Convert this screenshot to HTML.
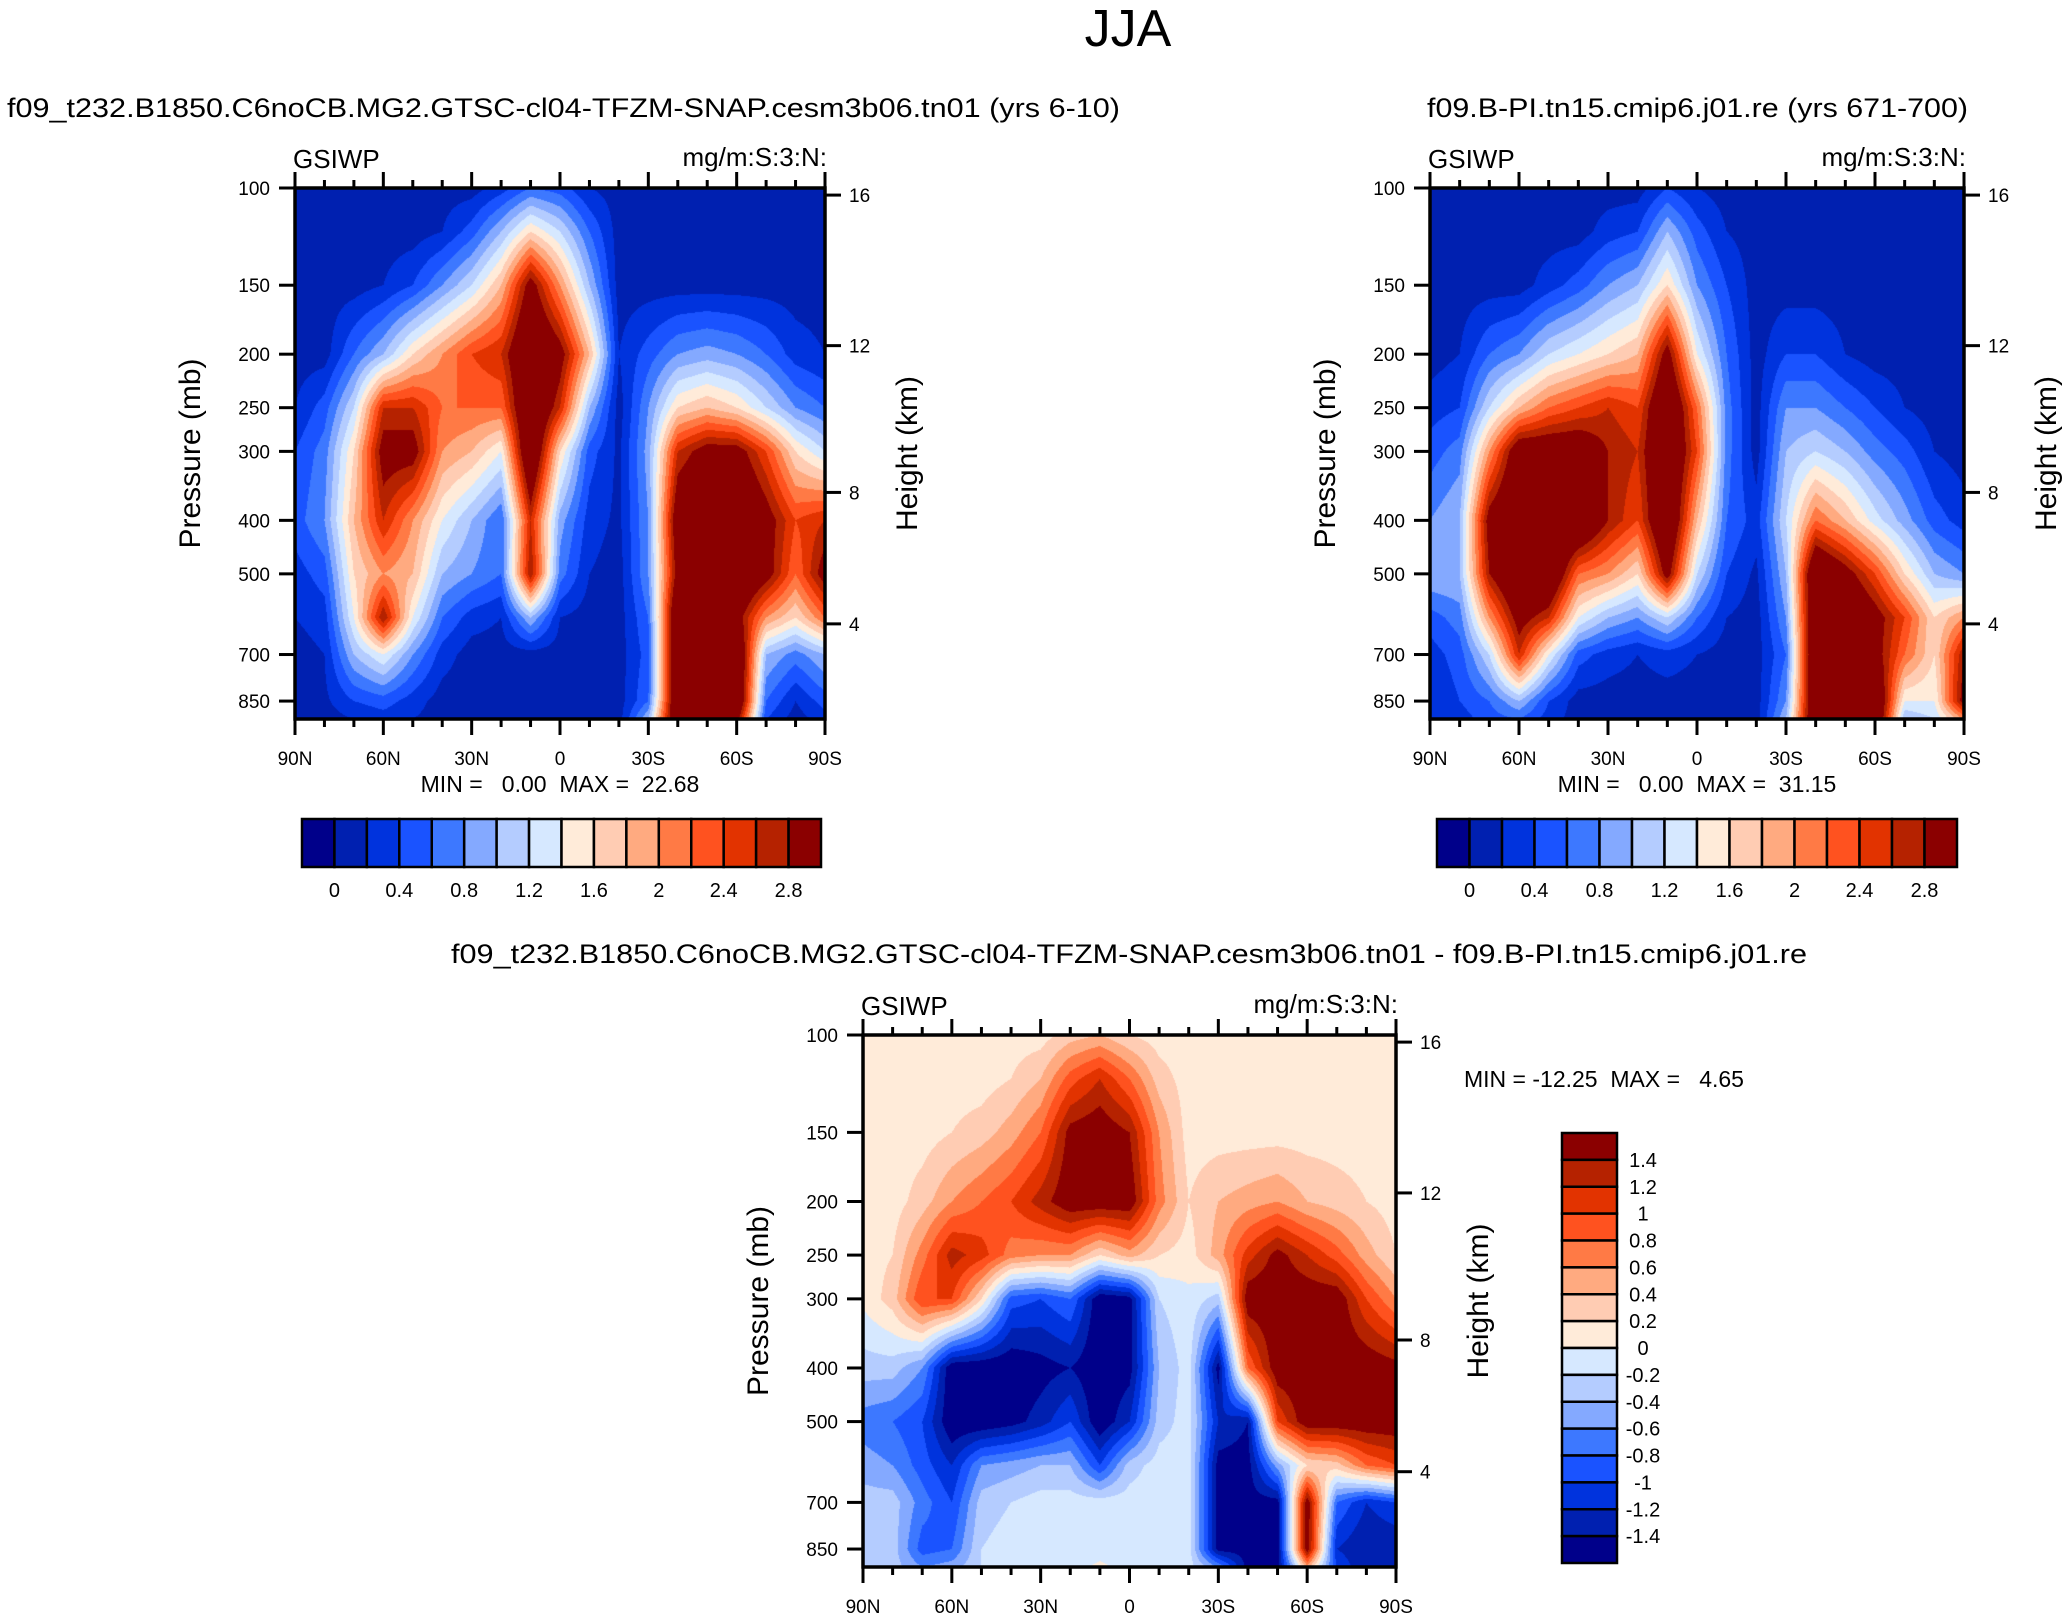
<!DOCTYPE html>
<html><head><meta charset="utf-8"><style>
html,body{margin:0;padding:0;background:#fff;}
body{width:2062px;height:1617px;position:relative;overflow:hidden;font-family:"Liberation Sans",Arial,sans-serif;}
canvas{position:absolute;}
svg{position:absolute;left:0;top:0;}
text{font-family:"Liberation Sans",Arial,sans-serif;fill:#000;white-space:pre;}
</style></head><body>
<canvas id="c1"></canvas>
<canvas id="c2"></canvas>
<canvas id="c3"></canvas>
<svg id="svg" width="2062" height="1617"></svg>
<script>
// ---- data ----
const levels = [100,120,150,200,250,300,400,500,600,700,850,916];
const lats = [90,80,70,60,50,40,30,20,10,0,-10,-20,-30,-40,-50,-60,-70,-80,-90];
const latTickLabels = ["90N","60N","30N","0","30S","60S","90S"];
const pressTicks = [100,150,200,250,300,400,500,700,850];
const heightTicks = [16,12,8,4];
const heightTickP = [103,193,356,616];
const absBarLabels = ["0","0.4","0.8","1.2","1.6","2","2.4","2.8"];
const diffBarLabels = ["1.4","1.2","1","0.8","0.6","0.4","0.2","0","-0.2","-0.4","-0.6","-0.8","-1","-1.2","-1.4"];
const colors = ["#00008a","#0020b0","#0033dd","#1a53ff","#3d78ff","#84a9ff","#b4ccff","#d6e8ff","#ffebd9","#ffccb3","#ffaa80","#ff7a45","#ff521f","#e23300","#b52200","#8b0000"];

const p1Rows = [
[.1,.1,.1,.1,.1,.1,.1,.3,.6,.5,.2,.1,.1,.1,.1,.1,.1,.1,.1],
[.1,.1,.1,.1,.1,.2,.5,1.0,1.6,1.2,.6,.1,.1,.1,.1,.1,.1,.1,.1],
[.1,.1,.1,.2,.4,.8,1.2,1.8,3.0,2.0,1.0,.1,.1,.1,.1,.1,.1,.1,.1],
[.1,.1,.6,1.0,1.6,2.0,2.4,2.6,3.5,3.0,1.8,.2,.5,.8,.9,.8,.6,.3,.2],
[.2,.5,1.2,2.6,2.6,2.2,2.2,2.2,3.5,2.6,1.0,.1,.8,1.6,1.8,1.6,1.2,.8,.6],
[.4,.7,1.6,3.0,3.0,2.0,1.8,1.4,3.5,1.6,.5,.15,.9,2.6,3.0,3.0,2.4,1.6,1.2],
[.5,.8,1.8,2.6,2.0,1.4,1.0,.6,2.6,.9,.3,.15,.8,3.2,3.5,3.5,3.0,2.4,2.6],
[.3,.5,1.6,2.0,1.8,1.0,.8,.6,2.8,.7,.2,.1,.8,3.0,3.5,3.5,3.0,2.2,3.0],
[.2,.3,1.4,2.8,1.4,.6,.3,.2,1.0,.2,.1,.1,.6,3.5,3.5,3.0,2.0,1.6,2.2],
[.1,.2,1.0,1.4,.8,.3,.1,.1,.1,.1,.1,.1,.5,3.5,3.5,3.5,1.0,.7,1.0],
[.1,.15,.4,.5,.3,.1,.1,.1,.1,.1,.1,.1,.6,3.5,3.5,3.5,.6,.2,.5],
[.1,.1,.2,.3,.2,.1,.1,.1,.1,.1,.1,.1,1.0,3.5,3.5,3.0,.4,.1,.3]];

const p2Rows = [
[.1,.1,.1,.1,.1,.1,.1,.1,.4,.2,.1,.1,.1,.1,.1,.1,.1,.1,.1],
[.1,.1,.1,.1,.1,.1,.3,.4,1.0,.5,.2,.1,.1,.1,.1,.1,.1,.1,.1],
[.1,.1,.1,.1,.3,.5,.8,1.0,1.6,.8,.4,.1,.1,.1,.1,.1,.1,.1,.1],
[.1,.2,.6,.8,1.2,1.4,1.6,1.8,3.0,1.4,.6,.1,.4,.4,.2,.1,.1,.1,.1],
[.3,.4,1.2,1.8,2.2,2.4,2.6,2.4,3.5,2.2,.7,.1,.8,.8,.6,.4,.2,.1,.1],
[.5,.7,2.0,3.2,3.2,3.2,2.8,2.6,3.5,2.4,.7,.1,1.0,1.2,1.0,.7,.5,.2,.1],
[.8,1.0,3.0,3.5,3.5,3.5,2.8,2.4,3.5,1.8,.6,.3,1.2,2.2,1.8,1.3,.9,.5,.3],
[1.0,1.0,2.8,3.5,3.5,2.2,2.0,1.6,3.0,1.2,.4,.15,1.0,3.5,3.0,2.4,1.6,1.0,.8],
[.5,.7,2.0,3.0,2.6,1.4,1.0,.8,1.2,.6,.2,.1,.8,3.5,3.5,3.0,2.4,1.6,2.0],
[.3,.5,1.2,2.6,1.4,.5,.3,.2,.3,.2,.1,.1,.6,3.5,3.5,3.0,2.2,1.6,2.8],
[.2,.4,.6,1.0,.4,.1,.1,.1,.1,.1,.1,.1,.8,3.5,3.5,3.5,1.4,1.4,3.0],
[.2,.3,.5,.6,.3,.1,.1,.1,.1,.1,.1,.1,1.0,3.5,3.5,3.5,1.0,1.2,2.0]];

const p3Rows = [
[.1,.1,.1,.1,.1,.1,.1,.3,.4,.2,.1,.1,.1,.1,.1,.1,.1,.1,.1],
[.1,.1,.1,.1,.1,.2,.4,.9,1.2,.8,.3,.1,.1,.1,.1,.1,.1,.1,.1],
[.1,.1,.1,.2,.3,.5,.8,1.5,1.6,1.4,.6,.1,.1,.1,.1,.1,.1,.1,.1],
[.1,.1,.3,.6,.8,1.0,1.3,1.6,1.6,1.6,.7,.2,.4,.5,.6,.4,.3,.2,.1],
[.1,.2,.7,1.3,1.1,.7,.6,.6,.2,.5,.2,.1,.5,1.1,1.5,1.2,.9,.5,.2],
[.05,.3,1.0,1.0,.2,-.9,-1.0,-.8,-1.6,-1.5,-.2,-.05,-.3,1.6,1.6,1.6,1.6,1.0,.6],
[-.3,-.3,-.6,-1.6,-1.6,-1.6,-1.5,-1.4,-1.6,-1.5,-.4,-.1,-1.5,.8,1.6,1.6,1.6,1.6,1.5],
[-.7,-.8,-1.0,-1.6,-1.6,-1.5,-1.3,-1.0,-1.6,-1.2,-.3,-.1,-1.2,-1.4,1.0,1.6,1.6,1.6,1.6],
[-.5,-.6,-.9,-1.2,-.6,-.5,-.4,-.4,-1.0,-.3,-.1,-.1,-1.5,-1.5,-.5,.2,.3,.8,1.0],
[-.3,-.3,-.7,-1.0,-.3,-.2,-.1,-.1,-.1,-.1,-.1,-.1,-1.5,-1.5,-1.5,1.6,-.8,-1.2,-1.0],
[-.2,-.3,-.9,-.8,-.2,-.1,-.1,-.1,-.1,-.1,-.1,-.1,-1.5,-1.5,-1.5,1.6,-1.2,-1.4,-1.4],
[-.2,-.3,-.6,-.5,-.2,-.1,-.1,-.1,.05,-.1,-.1,-.1,-.6,-1.5,-1.5,.5,-1.0,-1.4,-1.4]];

// ---- rendering ----
const NS = "http://www.w3.org/2000/svg";
const svg = document.getElementById('svg');
function mk(tag, attrs, parent){
  const e = document.createElementNS(NS, tag);
  for (const k in attrs) e.setAttribute(k, attrs[k]);
  (parent||svg).appendChild(e);
  return e;
}
function txt(s, x, y, size, anchor, name, extra){
  const t = mk('text', Object.assign({x:x, y:y, 'font-size':size, 'text-anchor':anchor||'start'}, extra||{}));
  t.textContent = s;
  
  
  return t;
}
function boxIndex(v, mode){
  let i = mode === 'abs' ? Math.floor(v/0.2 + 1e-9) + 1 : Math.floor((v+1.4)/0.2 + 1e-9) + 1;
  return Math.max(0, Math.min(15, i));
}
function hexRGB(h){ return [parseInt(h.substr(1,2),16),parseInt(h.substr(3,2),16),parseInt(h.substr(5,2),16)]; }
const rgb = colors.map(hexRGB);

function drawPanel(id, P){
  const W = P.x1 - P.x0, H = P.y1 - P.y0;
  const lnMax = Math.log(levels[levels.length-1]/100);
  const yOfP = p => P.y0 + H*Math.log(p/100)/lnMax;
  const xOfLat = lat => P.x0 + W*(90-lat)/180;
  const cv = document.getElementById(id);
  cv.width = W; cv.height = H;
  cv.style.left = P.x0+'px'; cv.style.top = P.y0+'px';
  const ctx = cv.getContext('2d');
  const img = ctx.createImageData(W, H);
  const rowY = levels.map(p => yOfP(p) - P.y0);
  for (let py=0; py<H; py++){
    const yy = py + 0.5;
    let r = 0;
    while (r < rowY.length-2 && yy > rowY[r+1]) r++;
    let fy = (yy - rowY[r])/(rowY[r+1]-rowY[r]); fy = Math.max(0, Math.min(1, fy));
    for (let px=0; px<W; px++){
      const cf = (px+0.5)/W*(lats.length-1);
      const c = Math.min(lats.length-2, Math.floor(cf));
      const fx = cf - c;
      const a = P.rows[r][c]*(1-fx) + P.rows[r][c+1]*fx;
      const b = P.rows[r+1][c]*(1-fx) + P.rows[r+1][c+1]*fx;
      const v = a*(1-fy) + b*fy;
      const col = rgb[boxIndex(v, P.mode)];
      const o = (py*W+px)*4;
      img.data[o]=col[0]; img.data[o+1]=col[1]; img.data[o+2]=col[2]; img.data[o+3]=255;
    }
  }
  ctx.putImageData(img, 0, 0);

  const g = mk('g', {});
  
  
  mk('rect', {x:P.x0, y:P.y0, width:W, height:H, fill:'none', stroke:'#000', 'stroke-width':3.5}, g);
  for (let lat=90; lat>=-90; lat-=10){
    const x = xOfLat(lat);
    const major = lat % 30 === 0;
    const L = major ? 16 : 8;
    mk('line', {x1:x, y1:P.y1, x2:x, y2:P.y1+L, stroke:'#000', 'stroke-width':3}, g);
    mk('line', {x1:x, y1:P.y0, x2:x, y2:P.y0-L, stroke:'#000', 'stroke-width':3}, g);
  }
  latTickLabels.forEach((s,i) => {
    txt(s, xOfLat(90 - 30*i), P.y1+46, 19, 'middle', 'x-tick-label');
  });
  pressTicks.forEach(p => {
    const y = yOfP(p);
    mk('line', {x1:P.x0-16, y1:y, x2:P.x0, y2:y, stroke:'#000', 'stroke-width':3}, g);
    txt(String(p), P.x0-25, y+7, 19, 'end', 'y-tick-label');
  });
  heightTicks.forEach((h,i) => {
    const y = yOfP(heightTickP[i]);
    mk('line', {x1:P.x1, y1:y, x2:P.x1+16, y2:y, stroke:'#000', 'stroke-width':3}, g);
    txt(String(h), P.x1+24, y+7, 19, 'start', 'right-tick-label');
  });
  const cy = (P.y0+P.y1)/2;
  txt('Pressure (mb)', P.x0-95, cy, 30, 'middle', 'y-axis-title', {transform:'rotate(-90 '+(P.x0-95)+' '+cy+')'});
  txt('Height (km)', P.x1+92, cy, 30, 'middle', 'right-axis-title', {transform:'rotate(-90 '+(P.x1+92)+' '+cy+')'});
  txt('GSIWP', P.x0-2, P.y0-20, 26, 'start', 'variable-label');
  txt('mg/m:S:3:N:', P.x1+2, P.y0-22, 26, 'end', 'units-label');
}

const panels = [
  {id:'c1', name:'panel-1', x0:295, x1:825, y0:188, y1:719, rows:p1Rows, mode:'abs'},
  {id:'c2', name:'panel-2', x0:1430, x1:1964, y0:188, y1:719, rows:p2Rows, mode:'abs'},
  {id:'c3', name:'panel-diff', x0:863, x1:1396, y0:1035, y1:1567, rows:p3Rows, mode:'diff'}
];
panels.forEach(P => drawPanel(P.id, P));

function hbar(x0, x1, y0, y1, name){
  const g = mk('g', {});
  
  
  const w = (x1-x0)/colors.length;
  colors.forEach((c,i) => {
    const r = mk('rect', {x:x0+i*w, y:y0, width:w, height:y1-y0, fill:c, stroke:'#000', 'stroke-width':2.5}, g);
    
    
  });
  absBarLabels.forEach((s,i) => {
    txt(s, x0 + (1+2*i)*w, y1+30, 20, 'middle', 'colorbar-label');
  });
}
hbar(302, 821, 819, 867, 'colorbar-1');
hbar(1437, 1957, 819, 867, 'colorbar-2');

(function(){
  const x0=1562, x1=1617, y0=1133, y1=1563;
  const g = mk('g', {});
  
  
  const h = (y1-y0)/colors.length;
  for (let i=0;i<colors.length;i++){
    const r = mk('rect', {x:x0, y:y0+i*h, width:x1-x0, height:h, fill:colors[colors.length-1-i], stroke:'#000', 'stroke-width':2.5}, g);
    
    
  }
  diffBarLabels.forEach((s,i) => {
    txt(s, 1643, y0 + (i+1)*h + 7, 20, 'middle', 'colorbar-label');
  });
})();

txt('JJA', 1128, 46, 52, 'middle', 'main-title');
txt('f09_t232.B1850.C6noCB.MG2.GTSC-cl04-TFZM-SNAP.cesm3b06.tn01 (yrs 6-10)', 7, 117, 27, 'start', 'panel-1-title', {textLength:1113, lengthAdjust:'spacingAndGlyphs'});
txt('f09.B-PI.tn15.cmip6.j01.re (yrs 671-700)', 1427, 117, 27, 'start', 'panel-2-title', {textLength:541, lengthAdjust:'spacingAndGlyphs'});
txt('f09_t232.B1850.C6noCB.MG2.GTSC-cl04-TFZM-SNAP.cesm3b06.tn01 - f09.B-PI.tn15.cmip6.j01.re', 451, 963, 27, 'start', 'panel-diff-title', {textLength:1356, lengthAdjust:'spacingAndGlyphs'});
txt('MIN =   0.00  MAX =  22.68', 560, 792, 23, 'middle', 'panel-1-minmax');
txt('MIN =   0.00  MAX =  31.15', 1697, 792, 23, 'middle', 'panel-2-minmax');
txt('MIN = -12.25  MAX =   4.65', 1464, 1087, 23, 'start', 'panel-diff-minmax');
</script>
</body></html>
